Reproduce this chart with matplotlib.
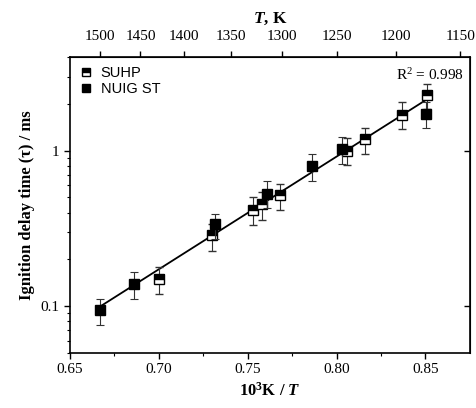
import numpy as np
import matplotlib
matplotlib.use("Agg")
import matplotlib.pyplot as plt
from matplotlib.lines import Line2D

# SUHP data (1000/T, tau in ms, error bar limits)
suhp_x = [0.700, 0.730, 0.753, 0.758, 0.768, 0.806, 0.816, 0.837, 0.851]
suhp_tau = [0.149, 0.285, 0.418, 0.451, 0.522, 0.99, 1.19, 1.70, 2.29]
suhp_lo = [0.120, 0.225, 0.335, 0.356, 0.418, 0.81, 0.957, 1.38, 1.85]
suhp_hi = [0.178, 0.340, 0.500, 0.540, 0.615, 1.21, 1.40, 2.06, 2.69]

# NUIG shock tube data
nuig_x = [0.667, 0.686, 0.7315, 0.761, 0.786, 0.803, 0.8506]
nuig_tau = [0.094, 0.138, 0.336, 0.53, 0.80, 1.02, 1.73]
nuig_lo = [0.0757, 0.111, 0.270, 0.43, 0.642, 0.82, 1.40]
nuig_hi = [0.111, 0.165, 0.394, 0.642, 0.957, 1.22, 2.05]

temp_ticks = [1500, 1450, 1400, 1350, 1300, 1250, 1200, 1150]
r2_text = "R$^2$ = 0.998"

serif = "Liberation Serif"
sans = "Liberation Sans"
plt.rcParams["mathtext.fontset"] = "custom"
plt.rcParams["mathtext.rm"] = "Liberation Serif"
plt.rcParams["mathtext.it"] = "Liberation Serif:italic:bold"
plt.rcParams["mathtext.bf"] = "Liberation Serif:bold"

fig = plt.figure(figsize=(4.76, 4.08), dpi=100)
ax = fig.add_axes([0.147, 0.135, 0.840, 0.725])

def yerr(vals, lo, hi):
    v = np.array(vals)
    return [v - np.array(lo), np.array(hi) - v]

# Arrhenius fit over all points
all_x = np.array(suhp_x + nuig_x)
all_t = np.array(suhp_tau + nuig_tau)
k = np.polyfit(all_x, np.log10(all_t), 1)
xf = np.array([min(nuig_x), max(suhp_x)])
ax.plot(xf, 10 ** np.polyval(k, xf), color="black", linewidth=1.3, zorder=2)

ax.errorbar(suhp_x, suhp_tau, yerr=yerr(suhp_tau, suhp_lo, suhp_hi), fmt="s",
            color="black", markersize=7, fillstyle="top", markerfacecoloralt="white",
            markeredgewidth=1.0, ecolor="#333333", elinewidth=0.8, capsize=3,
            capthick=0.8, zorder=3)
ax.errorbar(nuig_x, nuig_tau, yerr=yerr(nuig_tau, nuig_lo, nuig_hi), fmt="s",
            color="black", markersize=7.5, ecolor="#333333", elinewidth=0.8,
            capsize=3, capthick=0.8, zorder=4)

ax.set_yscale("log")
ax.set_xlim(0.65, 0.875)
ax.set_ylim(0.05, 4)
ax.set_xticks([0.65, 0.70, 0.75, 0.80, 0.85])
ax.set_xticks([0.675, 0.725, 0.775, 0.825], minor=True)
ax.set_xticklabels(["0.65", "0.70", "0.75", "0.80", "0.85"], fontfamily=serif, fontsize=11)
ax.set_yticks([0.1, 1])
ax.set_yticklabels(["0.1", "1"], fontfamily=serif, fontsize=11)
ax.tick_params(which="both", direction="out")
ax.tick_params(which="major", length=4, width=1)
ax.tick_params(which="minor", length=2.5, width=0.8)
for s in ax.spines.values():
    s.set_linewidth(1.2)

ax.set_xlabel(r"$\mathbf{10^3}$K / $T$", fontfamily=serif, fontweight="bold", fontsize=12, labelpad=4)
ax.set_ylabel("Ignition delay time (τ) / ms", fontfamily=serif, fontweight="bold", fontsize=12, labelpad=4)

# top temperature axis
top = ax.secondary_xaxis("top", functions=(lambda x: 1000 / x, lambda t: 1000 / t))
top.set_xticks(temp_ticks)
top.set_xticklabels([str(t) for t in temp_ticks], fontfamily=serif, fontsize=11)
top.tick_params(direction="out", length=4, width=1, pad=6)
top.xaxis.set_minor_locator(matplotlib.ticker.NullLocator())
top.set_xlabel("$T$, K", fontfamily=serif, fontweight="bold", fontsize=12.5, labelpad=5)

# right axis with inward ticks
right = ax.secondary_yaxis("right")
right.set_yticks([0.1, 1])
right.set_yticklabels([])
right.tick_params(direction="in", length=4, width=1)
right.yaxis.set_minor_locator(matplotlib.ticker.NullLocator())

ax.text(0.985, 0.94, r2_text, transform=ax.transAxes, ha="right", va="center",
        fontfamily=serif, fontsize=11)

handles = [
    Line2D([], [], marker="s", linestyle="none", color="black", markersize=5.5,
           fillstyle="top", markerfacecoloralt="white", markeredgewidth=1.0),
    Line2D([], [], marker="s", linestyle="none", color="black", markersize=6),
]
ax.legend(handles, ["SUHP", "NUIG ST"], loc="upper left", frameon=False,
          prop={"family": sans, "size": 10.5}, handletextpad=0.5,
          borderaxespad=0.2, labelspacing=0.15, handlelength=1)

fig.savefig("out.png", dpi=100)
